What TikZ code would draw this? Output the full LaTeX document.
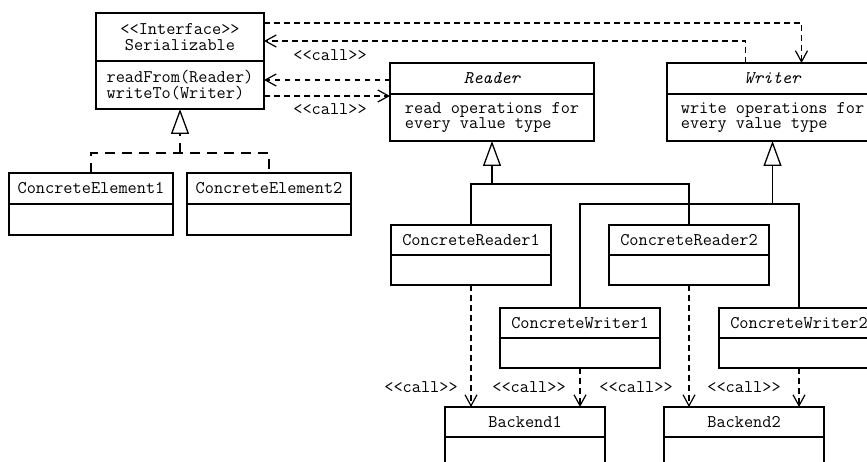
\documentclass[tikz,border=0pt]{standalone}
\usetikzlibrary{arrows.meta, positioning}

\begin{document}
\begin{tikzpicture}[
    x=1pt, y=-1pt,
    uml/.style={font=\ttfamily\fontsize{17.8}{15.5}\selectfont},
    box/.style={uml, draw, line width=1.3pt, inner sep=0pt, outer sep=0pt},
    head/.style={box, anchor=north west, minimum width=#1, align=center},
    body/.style={box, minimum width=#1, align=left},
    lbl/.style={uml, anchor=base, inner sep=0pt},
    call/.style={line width=1.2pt, dash pattern=on 5.5pt off 4.5pt,
        -{Straight Barb[length=11pt, width=12pt]}},
    inherit/.style={line width=1.3pt},
    tri/.style={-{Triangle[open, length=25pt, width=18pt]}},
    realize/.style={inherit, dash pattern=on 10pt off 7pt}
]
\clip (0,0) rectangle (867,462);

% interface and its elements
\node[head=168pt, minimum height=48pt] (serh) at (96,13) {<<Interface>>\\Serializable};
\node[body=168pt, minimum height=48pt, below=0pt of serh] (serb) {readFrom(Reader)\\writeTo(Writer)};

\node[head=164pt, minimum height=31pt] (el1h) at (9,173) {ConcreteElement1};
\node[body=164pt, minimum height=31pt, below=0pt of el1h] (el1b) {};
\node[head=164pt, minimum height=31pt] (el2h) at (187,173) {ConcreteElement2};
\node[body=164pt, minimum height=31pt, below=0pt of el2h] (el2b) {};

% reader / writer
\node[head=204pt, minimum height=31pt] (rdh) at (390,63) {\itshape Reader};
\node[body=204pt, minimum height=47pt, below=0pt of rdh] (rdb) {read operations for\\every value type};
\node[head=211pt, minimum height=31pt] (wrh) at (667,63) {\itshape Writer};
\node[body=211pt, minimum height=47pt, below=0pt of wrh] (wrb) {write operations for\\every value type};

\node[head=160pt, minimum height=30pt] (crd1h) at (391,225) {ConcreteReader1};
\node[body=160pt, minimum height=30pt, below=0pt of crd1h] (crd1b) {};
\node[head=160pt, minimum height=30pt] (crd2h) at (609,225) {ConcreteReader2};
\node[body=160pt, minimum height=30pt, below=0pt of crd2h] (crd2b) {};

\node[head=160pt, minimum height=30pt] (cwr1h) at (500,308) {ConcreteWriter1};
\node[body=160pt, minimum height=30pt, below=0pt of cwr1h] (cwr1b) {};
\node[head=160pt, minimum height=30pt] (cwr2h) at (719,308) {ConcreteWriter2};
\node[body=160pt, minimum height=30pt, below=0pt of cwr2h] (cwr2b) {};

% backends
\node[head=160pt, minimum height=30pt] (bk1h) at (445,407) {Backend1};
\node[body=160pt, minimum height=30pt, below=0pt of bk1h] (bk1b) {};
\node[head=160pt, minimum height=30pt] (bk2h) at (664,407) {Backend2};
\node[body=160pt, minimum height=30pt, below=0pt of bk2h] (bk2b) {};

% realization
\coordinate (el bus) at ([yshift=-44pt]serb.south);
\draw[realize] (el1h.north) |- (el bus) -| (el2h.north);
\draw[realize, tri] (el bus) -- (serb.south);

% generalization
\coordinate (rd bus) at ([yshift=-43pt]rdb.south);
\draw[inherit] (crd1h.north) |- (rd bus) -| (crd2h.north);
\draw[inherit, tri] (rd bus) -- (rdb.south);
\coordinate (wr bus) at ([yshift=-63pt]wrb.south);
\draw[inherit] (cwr1h.north) |- (wr bus) -| (cwr2h.north);
\draw[inherit, tri] (wr bus) -- (wrb.south);

% calls
\draw[call] ([yshift=-10pt]serh.north east) -| ([xshift=29pt]wrh.north);
\draw[call] ([xshift=-27pt]wrh.north) |- ([yshift=-28pt]serh.north east);
\coordinate (rd in) at ([yshift=-17pt]rdh.north west);
\draw[call] (rd in) -- (rd in -| serb.east);
\coordinate (rd out) at ([yshift=-2pt]rdb.north west);
\draw[call] (rd out -| serb.east) -- (rd out);
\node[lbl] (call1) at (330,61) {<<call>>};
\node[lbl] (call2) at (330,115) {<<call>>};

\draw[call] (crd1b.south) -- (crd1b.south |- bk1h.north);
\draw[call] (cwr1b.south) -- (cwr1b.south |- bk1h.north);
\draw[call] (crd2b.south) -- (crd2b.south |- bk2h.north);
\draw[call] (cwr2b.south) -- (cwr2b.south |- bk2h.north);
\node[lbl] (call3) at (421,392) {<<call>>};
\node[lbl] (call4) at (529,392) {<<call>>};
\node[lbl] (call5) at (636,392) {<<call>>};
\node[lbl] (call6) at (744,392) {<<call>>};
\end{tikzpicture}
\end{document}
